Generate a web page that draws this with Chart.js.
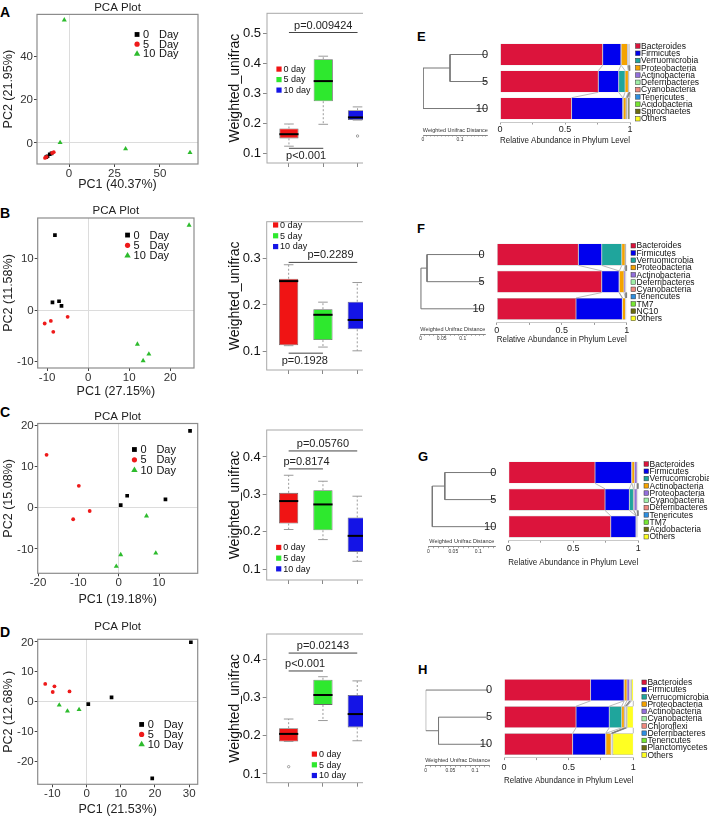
<!DOCTYPE html>
<html><head><meta charset="utf-8">
<script src="https://cdn.jsdelivr.net/npm/chart.js@4.4.0/dist/chart.umd.min.js"></script>
<style>
html,body{margin:0;padding:0;background:#fff;}
body{width:709px;height:818px;position:relative;overflow:hidden;font-family:'Liberation Sans',Arial,Helvetica,sans-serif;}
.lt{position:absolute;font-weight:bold;line-height:1;color:#000;}
</style></head><body>
<div class="lt" style="left:0px;top:5px;font-size:14px">A</div>
<div class="lt" style="left:0px;top:206px;font-size:14px">B</div>
<div class="lt" style="left:0px;top:405px;font-size:14px">C</div>
<div class="lt" style="left:0px;top:625px;font-size:14px">D</div>
<div class="lt" style="left:417px;top:30px;font-size:13px">E</div>
<div class="lt" style="left:417px;top:222px;font-size:13px">F</div>
<div class="lt" style="left:418px;top:450px;font-size:13px">G</div>
<div class="lt" style="left:418px;top:663px;font-size:13px">H</div>
<script>
// ================= DATA =================
const dayGroups = ['0 Day', '5 Day', '10 Day'];
const boxGroups = ['0 day', '5 day', '10 day'];

// PCA points [PC1, PC2]
const pcaA_d0  = [[-12.5,-6.6],[-11.8,-6.2],[-10.6,-5.3],[-9.6,-4.9]];
const pcaA_d5  = [[-13.2,-7.0],[-12.3,-6.5],[-9.3,-4.7],[-8.4,-4.3]];
const pcaA_d10 = [[-2.6,56.9],[-4.9,0.1],[31.1,-2.8],[66.5,-4.5]];
const pcaB_d0  = [[-8.1,14.5],[-8.7,1.5],[-7.1,1.7],[-6.5,0.8]];
const pcaB_d5  = [[-10.6,-2.6],[-9.1,-2.1],[-8.5,-4.2],[-5.0,-1.3]];
const pcaB_d10 = [[24.6,16.4],[12.0,-6.6],[14.8,-8.5],[13.4,-9.8]];
const pcaC_d0  = [[17.7,18.6],[2.1,2.9],[0.5,0.6],[11.6,2.0]];
const pcaC_d5  = [[-17.9,12.8],[-9.9,5.3],[-7.2,-0.8],[-11.3,-2.8]];
const pcaC_d10 = [[6.9,-2.0],[9.2,-11.0],[0.5,-11.4],[-0.6,-14.2]];
const pcaD_d0  = [[30.5,19.9],[7.3,1.4],[0.5,-0.9],[19.2,-25.8]];
const pcaD_d5  = [[-12.1,5.9],[-9.4,5.1],[-9.9,3.2],[-5.0,3.4]];
const pcaD_d10 = [[-8.0,-1.2],[-5.6,-3.2],[-2.2,-2.7]];
const pcaTitleX = ['PC1 (40.37%)','PC1 (27.15%)','PC1 (19.18%)','PC1 (21.53%)'];
const pcaTitleY = ['PC2 (21.95%)','PC2 (11.58%)','PC2 (15.08%)','PC2 (12.68% )'];
// PCA tick labels
const pcaTicksXA = [0, 25, 50];            const pcaTicksYA = [0, 20, 40];
const pcaTicksXB = [-10, 0, 10, 20];       const pcaTicksYB = [-10, 0, 10];
const pcaTicksXC = [-20, -10, 0, 10];      const pcaTicksYC = [-10, 0, 10, 20];
const pcaTicksXD = [-10, 0, 10, 20, 30];   const pcaTicksYD = [-20, -10, 0, 10, 20];

// Box stats per group: [lower whisker, Q1, median, Q3, upper whisker]
const boxA = [[0.124,0.150,0.164,0.183,0.198],[0.197,0.274,0.341,0.414,0.424],[0.211,0.211,0.220,0.244,0.255]];
const boxB = [[0.113,0.114,0.251,0.256,0.286],[0.110,0.125,0.179,0.191,0.206],[0.102,0.148,0.168,0.207,0.248]];
const boxC = [[0.206,0.222,0.282,0.304,0.351],[0.179,0.204,0.273,0.311,0.335],[0.121,0.146,0.189,0.238,0.295]];
const boxD = [[0.185,0.185,0.205,0.220,0.244],[0.240,0.281,0.307,0.347,0.355],[0.187,0.222,0.257,0.307,0.344]];
const outA = [[3,0.158]];
const outD = [[1,0.119]];
const boxTicksA = [0.1, 0.2, 0.3, 0.4, 0.5];
const boxTicksB = [0.1, 0.2, 0.3];
const boxTicksC = [0.1, 0.2, 0.3, 0.4];
const boxTicksD = [0.1, 0.2, 0.3, 0.4];
// p-value brackets: [text, from group, to group, y value]
const pvA = [['p=0.009424',1,3,0.503],['p<0.001',1,2,0.117]];
const pvB = [['p=0.2289',1,3,0.291],['p=0.1928',1,2,0.097]];
const pvC = [['p=0.05760',1,3,0.416],['p=0.8174',1,2,0.368]];
const pvD = [['p=0.02143',1,3,0.417],['p<0.001',1,2,0.370]];

// Relative abundance (bars 0, 5, 10)
const barCats = ['0','5','10'];
const phylaE = ['Bacteroides','Firmicutes','Verruomicrobia','Proteobacteria','Actinobacteria','Deferribacteres','Cyanobacteria','Tenericutes','Acidobacteria','Spirochaetes','Others'];
const valsE = [[0.790,0.756,0.551],[0.140,0.157,0.393],[0.002,0.049,0.004],[0.048,0.025,0.021],[0.008,0.006,0.006],[0.002,0.001,0.002],[0.002,0.001,0.002],[0.002,0.001,0.003],[0.001,0.001,0.002],[0.001,0.001,0.010],[0.004,0.002,0.006]];
const phylaF = ['Bacteroides','Firmicutes','Verruomicrobia','Proteobacteria','Actinobacteria','Deferribacteres','Cyanobacteria','Tenericutes','TM7','NC10','Others'];
const valsF = [[0.628,0.808,0.610],[0.180,0.133,0.356],[0.154,0.003,0.002],[0.025,0.035,0.022],[0.006,0.012,0.003],[0.001,0.002,0.001],[0.001,0.002,0.001],[0.001,0.001,0.001],[0.001,0.001,0.001],[0.001,0.001,0.001],[0.002,0.002,0.002]];
const phylaG = ['Bacteroides','Firmicutes','Verrucomicrobia','Actinobacteria','Proteobacteria','Cyanobacteria','Deferribacteres','Tenericutes','TM7','Acidobacteria','Others'];
const valsG = [[0.667,0.744,0.788],[0.282,0.187,0.194],[0.002,0.031,0.002],[0.020,0.006,0.002],[0.019,0.022,0.008],[0.002,0.002,0.001],[0.002,0.002,0.001],[0.002,0.002,0.001],[0.001,0.001,0.001],[0.001,0.001,0.001],[0.002,0.002,0.001]];
const phylaH = ['Bacteroides','Firmicutes','Verrucomicrobia','Proteobacteria','Actinobacteria','Cyanobacteria','Chloroflexi','Deferribacteres','Tenericutes','Planctomycetes','Others'];
const valsH = [[0.670,0.557,0.531],[0.258,0.257,0.255],[0.002,0.096,0.002],[0.021,0.020,0.040],[0.020,0.008,0.003],[0.002,0.002,0.001],[0.002,0.002,0.001],[0.002,0.002,0.002],[0.002,0.002,0.002],[0.008,0.006,0.005],[0.013,0.048,0.158]];
const barTicks = [0, 0.25, 0.5, 0.75, 1];
const barTickLabels = [0, 0.5, 1];

// Dendrograms: [root x, inner node x, leaf x] (Weighted Unifrac distance scale), inner pair of leaves
const treeE = [0, 0.073, 0.173]; const pairE = [0,1]; const rulerE = [0, 0.1];
const treeF = [0, 0.015, 0.148]; const pairF = [0,1]; const rulerF = [0, 0.05, 0.1];
const treeG = [0.008, 0.033, 0.133]; const pairG = [0,1]; const rulerG = [0, 0.05, 0.1];
const treeH = [0, 0.026, 0.127]; const pairH = [1,2]; const rulerH = [0, 0.05, 0.1];

// ================= STYLE / HELPERS =================
const FF = "'Liberation Sans', Arial, Helvetica, sans-serif";
Chart.defaults.font.family = FF;
Chart.defaults.color = '#222';
const ptColors = ['#000000', '#ee1a1a', '#2dbb2d'];
const ptStyles = ['rect', 'circle', 'triangle'];
const boxColors = ['#f01414', '#2ee82e', '#1414e6'];
const phylaPalette = ['#dc143c','#0000ee','#1fa59c','#f5a300','#9370db','#a0f0a8','#f08a80','#2f8fe0','#77e633','#6b6b10','#ffff22'];
const setTicks = arr => s => { s.ticks = arr.map(v => ({ value: v })); };

function mk(x, y, w, h, clipW) {
  const c = document.createElement('canvas');
  c.width = w; c.height = h;
  c.style.cssText = 'position:absolute;width:' + w + 'px;height:' + h + 'px;';
  if (clipW) {
    const d = document.createElement('div');
    d.style.cssText = 'position:absolute;left:' + x + 'px;top:' + y + 'px;width:' + clipW + 'px;height:' + h + 'px;overflow:hidden;';
    c.style.left = '0px'; c.style.top = '0px';
    d.appendChild(c); document.body.appendChild(d);
  } else {
    c.style.left = x + 'px'; c.style.top = y + 'px';
    document.body.appendChild(c);
  }
  return c;
}
function marker(ctx, style, x, y, r, color) {
  ctx.fillStyle = color; ctx.beginPath();
  if (style === 'rect') { const s = r * Math.SQRT1_2; ctx.rect(x - s, y - s, 2 * s, 2 * s); }
  else if (style === 'circle') { ctx.arc(x, y, r, 0, Math.PI * 2); }
  else { const a = 2 * Math.PI / 3; ctx.moveTo(x, y - r); ctx.lineTo(x + r * Math.sin(a), y - r * Math.cos(a)); ctx.lineTo(x - r * Math.sin(a), y - r * Math.cos(a)); ctx.closePath(); }
  ctx.fill();
}
const framePlugin = (color, width) => ({
  id: 'frame',
  afterDatasetsDraw(chart) {
    const {ctx, chartArea: a} = chart;
    ctx.save(); ctx.strokeStyle = color; ctx.lineWidth = width;
    ctx.strokeRect(a.left, a.top, a.right - a.left, a.bottom - a.top);
    ctx.restore();
  }
});
const zeroGrid = c => (c.tick && c.tick.value === 0) ? '#dcdcdc' : 'rgba(0,0,0,0)';

// ---------- PCA ----------
function pcaChart(o) {
  const el = mk(o.x, o.y, o.w, o.h);
  const sets = [o.d0, o.d5, o.d10];
  const radii = [2.6, 1.9, 2.9];
  const orders = [1, 0, 2];
  const legend = {
    id: 'ptLeg',
    afterDraw(chart) {
      const {ctx, scales: {x, y}} = chart;
      // y tick labels, placed through the y scale
      ctx.save(); ctx.font = '11.5px ' + FF; ctx.fillStyle = '#333'; ctx.textAlign = 'right'; ctx.textBaseline = 'middle';
      o.yt2.forEach(v => ctx.fillText(String(v), y.left + y.width - 4, y.getPixelForValue(v) + 0.5));
      ctx.restore();
      const px = x.getPixelForValue(o.leg.x), py = y.getPixelForValue(o.leg.y);
      ctx.save(); ctx.font = '11px ' + FF; ctx.textBaseline = 'middle'; ctx.textAlign = 'left';
      const lr = [3.4, 2.6, 3.7];
      dayGroups.forEach((g, i) => {
        const yy = py + i * o.leg.dy;
        marker(ctx, ptStyles[i], px, yy, lr[i], ptColors[i]);
        const parts = g.split(' ');
        ctx.fillStyle = '#111';
        ctx.fillText(parts[0], px + 6, yy + 0.5);
        ctx.fillText(parts[1], px + 22, yy + 0.5);
      });
      ctx.restore();
    }
  };
  return new Chart(el, {
    type: 'scatter',
    data: { datasets: sets.map((s, i) => ({
      label: dayGroups[i], data: s.map(p => ({x: p[0], y: p[1]})),
      pointStyle: ptStyles[i], pointRadius: radii[i], pointHoverRadius: radii[i],
      backgroundColor: ptColors[i], borderColor: ptColors[i], borderWidth: 0, order: orders[i]
    })) },
    options: {
      responsive: false, animation: false, events: [],
      layout: { padding: o.pad },
      plugins: {
        legend: { display: false }, tooltip: { enabled: false },
        title: { display: true, text: 'PCA Plot', font: { size: 11.5, weight: 'normal' }, color: '#222', padding: { top: o.tp[0], bottom: o.tp[1] }, fullSize: false }
      },
      scales: {
        x: { type: 'linear', min: o.xr[0], max: o.xr[1], afterFit: s => { s.height = o.xH; }, afterBuildTicks: setTicks(o.xt2),
          ticks: { autoSkip: false, font: { size: 11.5 }, color: '#333', padding: 0, maxRotation: 0 },
          grid: { color: zeroGrid, tickColor: '#444', tickLength: 3, lineWidth: 1 },
          border: { display: false },
          title: { display: true, text: o.xt, font: { size: 12.5 }, color: '#222', padding: 0 } },
        y: { type: 'linear', min: o.yr[0], max: o.yr[1], afterFit: s => { s.width = o.yW; }, afterBuildTicks: setTicks(o.yt2),
          ticks: { display: false, autoSkip: false, font: { size: 11 }, padding: 1 },
          grid: { color: zeroGrid, tickColor: '#444', tickLength: 3, lineWidth: 1 },
          border: { display: false },
          title: { display: true, text: o.yt, font: { size: 12.5 }, color: '#222', padding: 0 } }
      }
    },
    plugins: [framePlugin('#8c8c8c', 1.2), legend]
  });
}

// ---------- BOX ----------
function boxChart(o) {
  const el = mk(o.x, o.y, o.w, o.h, o.clip);
  const boxW = 0.56;
  const extras = {
    id: 'boxExtras',
    afterDatasetsDraw(chart) {
      const {ctx, scales: {x, y}} = chart;
      const half = (x.getPixelForValue(1 + boxW / 2) - x.getPixelForValue(1));
      const cap = half * 0.5;
      const ln = (x1, y1, x2, y2) => { ctx.beginPath(); ctx.moveTo(x1, y1); ctx.lineTo(x2, y2); ctx.stroke(); };
      ctx.save();
      o.stats.forEach((s, i) => {
        const cx = x.getPixelForValue(i + 1);
        const Y = v => y.getPixelForValue(v);
        ctx.strokeStyle = '#9a9a9a'; ctx.lineWidth = 1;
        ctx.setLineDash([2, 2]);
        if (s[4] > s[3]) ln(cx, Y(s[3]), cx, Y(s[4]));
        if (s[0] < s[1]) ln(cx, Y(s[1]), cx, Y(s[0]));
        ctx.setLineDash([]);
        ln(cx - cap, Y(s[4]), cx + cap, Y(s[4]));
        ln(cx - cap, Y(s[0]), cx + cap, Y(s[0]));
        ctx.strokeStyle = '#000'; ctx.lineWidth = 2;
        ln(cx - half, Y(s[2]), cx + half, Y(s[2]));
      });
      ctx.strokeStyle = '#888'; ctx.lineWidth = 0.8;
      (o.out || []).forEach(p => { ctx.beginPath(); ctx.arc(x.getPixelForValue(p[0]), y.getPixelForValue(p[1]), 1.2, 0, Math.PI * 2); ctx.stroke(); });
      // p-value brackets
      ctx.strokeStyle = '#444'; ctx.lineWidth = 1; ctx.fillStyle = '#222';
      ctx.font = '11px ' + FF; ctx.textAlign = 'center'; ctx.textBaseline = 'middle';
      o.pv.forEach((p, k) => {
        const py = y.getPixelForValue(p[3]);
        ln(x.getPixelForValue(p[1]), py, x.getPixelForValue(p[2]), py);
        const pos = o.pvPos[k];
        ctx.fillText(p[0], x.getPixelForValue(pos[0]), pos[1] === 'above' ? py - 7 : py + 7.5);
      });
      // legend
      ctx.font = '9px ' + FF; ctx.textAlign = 'left';
      boxGroups.forEach((g, i) => {
        const lx = x.getPixelForValue(o.leg.x), ly = y.getPixelForValue(o.leg.y) + i * o.leg.dy;
        ctx.fillStyle = boxColors[i]; ctx.fillRect(lx - 2.6, ly - 2.6, 5.2, 5.2);
        ctx.fillStyle = '#111'; ctx.fillText(g, lx + 4.5, ly + 0.3);
      });
      ctx.restore();
    }
  };
  return new Chart(el, {
    type: 'bar',
    data: { datasets: [{
      data: o.stats.map((s, i) => ({x: i + 1, y: [s[1], s[3]]})),
      backgroundColor: boxColors, borderColor: '#666', borderWidth: 0.8, borderSkipped: false,
      barPercentage: boxW, categoryPercentage: 1
    }] },
    options: {
      responsive: false, animation: false, events: [],
      layout: { padding: o.pad },
      plugins: { legend: { display: false }, tooltip: { enabled: false } },
      scales: {
        x: { type: 'linear', offset: false, min: 0.36, max: 3.64, afterFit: s => { s.height = o.xH; }, afterBuildTicks: setTicks([1, 2, 3]),
          ticks: { autoSkip: false, callback: () => '' },
          grid: { drawOnChartArea: false, tickLength: 4, tickColor: '#888', offset: false },
          border: { display: false } },
        y: { type: 'linear', min: o.yr[0], max: o.yr[1], afterFit: s => { s.width = o.yW; }, afterBuildTicks: setTicks(o.ticks),
          ticks: { autoSkip: false, font: { size: 13 }, color: '#111', padding: 2, callback: v => v.toFixed(1) },
          grid: { drawOnChartArea: false, tickLength: 4, tickColor: '#888' },
          border: { display: false },
          title: { display: true, text: 'Weighted_unifrac', font: { size: 14 }, color: '#111', padding: 0 } }
      }
    },
    plugins: [framePlugin('#a8a8a8', 1), extras]
  });
}

// ---------- STACKED BARS ----------
function barChart(o) {
  const el = mk(o.x, o.y, o.w, o.h);
  const conn = {
    id: 'conn',
    afterDatasetsDraw(chart) {
      const {ctx} = chart;
      ctx.save(); ctx.strokeStyle = 'rgba(120,120,120,0.85)'; ctx.lineWidth = 0.6;
      chart.data.datasets.forEach((d, k) => {
        const els = chart.getDatasetMeta(k).data;
        for (let i = 0; i < els.length - 1; i++) {
          const a = els[i], b = els[i + 1];
          ctx.beginPath(); ctx.moveTo(a.x, a.y + a.height / 2); ctx.lineTo(b.x, b.y - b.height / 2); ctx.stroke();
        }
      });
      ctx.restore();
    }
  };
  const leg = {
    id: 'blg',
    afterDraw(chart) {
      const {ctx, chartArea: ca} = chart;
      ctx.save(); ctx.font = '8.5px ' + FF; ctx.textBaseline = 'middle'; ctx.textAlign = 'left';
      o.names.forEach((n, k) => {
        const cx = ca.right + o.ldx, cy = ca.top + o.ldy + k * 7.27;
        ctx.fillStyle = phylaPalette[k]; ctx.fillRect(cx - 2.3, cy - 2.3, 4.6, 4.6);
        ctx.strokeStyle = '#333'; ctx.lineWidth = 0.5; ctx.strokeRect(cx - 2.3, cy - 2.3, 4.6, 4.6);
        ctx.fillStyle = '#111'; ctx.fillText(n, cx + 3.2, cy + 0.4);
      });
      ctx.restore();
    }
  };
  return new Chart(el, {
    type: 'bar',
    data: { labels: barCats, datasets: o.names.map((n, k) => ({
      label: n, data: o.vals[k], backgroundColor: phylaPalette[k],
      borderColor: 'rgba(40,40,40,0.55)', borderWidth: 0.4, borderSkipped: false,
      categoryPercentage: 0.8, barPercentage: 1
    })) },
    options: {
      indexAxis: 'y', responsive: false, animation: false, events: [],
      layout: { padding: o.pad },
      plugins: { legend: { display: false }, tooltip: { enabled: false } },
      scales: {
        x: { stacked: true, min: 0, max: 1, afterFit: s => { s.height = o.xH; }, afterBuildTicks: setTicks(barTicks),
          ticks: { autoSkip: false, maxRotation: 0, font: { size: 9 }, color: '#222', padding: o.tpad,
            callback: v => barTickLabels.includes(v) ? String(v) : '' },
          grid: { drawOnChartArea: false, tickLength: 2.5, tickColor: '#999' },
          border: { display: true, color: '#bbb', width: 0.8 },
          title: { display: true, text: 'Relative Abundance in Phylum Level', font: { size: 9 }, color: '#222', padding: 0 } },
        y: { stacked: true, afterFit: s => { s.width = o.yW; },
          ticks: { autoSkip: false, font: { size: 11 }, color: '#222', padding: 4 },
          grid: { display: false }, border: { display: false } }
      }
    },
    plugins: [conn, leg]
  });
}

// ---------- DENDROGRAM ----------
function treeChart(o) {
  const el = mk(o.x, o.y, o.w, o.h);
  const [rx, nx, tx] = o.tree; const [a, b] = o.pair;
  const other = [0, 1, 2].find(i => i !== a && i !== b); const mid = (a + b) / 2;
  const paths = [
    [[tx, a], [nx, a], [nx, b], [tx, b]],
    [[nx, mid], [rx, mid], [rx, other], [tx, other]]
  ];
  const rulerTicks = [];
  for (let k = 0; k <= Math.floor(o.xmax * 100 + 1e-6); k++) rulerTicks.push(k / 100);
  const rt = {
    id: 'rt',
    afterDraw(chart) {
      const {ctx, chartArea: ca} = chart;
      ctx.save(); ctx.font = '5.5px ' + FF; ctx.fillStyle = '#333'; ctx.textAlign = 'center'; ctx.textBaseline = 'middle';
      ctx.fillText('Weighted Unifrac Distance', (ca.left + ca.right) / 2, ca.bottom - 5);
      ctx.restore();
    }
  };
  return new Chart(el, {
    type: 'scatter',
    data: { datasets: paths.map(p => ({ data: p.map(q => ({x: q[0], y: q[1]})), showLine: true, borderColor: '#777', borderWidth: 1, pointRadius: 0, fill: false, tension: 0 })) },
    options: {
      responsive: false, animation: false, events: [],
      layout: { padding: o.pad },
      plugins: { legend: { display: false }, tooltip: { enabled: false } },
      scales: {
        x: { type: 'linear', min: 0, max: o.xmax, afterFit: s => { s.height = o.xH; }, afterBuildTicks: setTicks(rulerTicks),
          ticks: { autoSkip: false, maxRotation: 0, font: { size: 5 }, color: '#333', padding: 0,
            callback: v => o.labels.some(l => Math.abs(l - v) < 1e-6) ? String(+v.toFixed(2)) : '' },
          grid: { drawOnChartArea: false, tickLength: 1.5, tickColor: '#666', lineWidth: 0.6 },
          border: { display: true, color: '#666', width: 0.8 } },
        y: { display: false, type: 'linear', min: -0.5, max: o.ymax, reverse: true }
      }
    },
    plugins: [rt]
  });
}

// ================= BUILD =================
pcaChart({x:0, y:0, w:210, h:200, d0:pcaA_d0, d5:pcaA_d5, d10:pcaA_d10, xt:pcaTitleX[0], yt:pcaTitleY[0], xt2:pcaTicksXA, yt2:pcaTicksYA,
  pad:{left:0.8,right:12,top:0,bottom:7.5}, tp:[0.6,0], yW:36.2, xH:28.5, xr:[-17.6,70.9], yr:[-9.8,59.5], leg:{x:37.4,y:50.2,dy:9.7}});
pcaChart({x:0, y:200, w:210, h:200, d0:pcaB_d0, d5:pcaB_d5, d10:pcaB_d10, xt:pcaTitleX[1], yt:pcaTitleY[1], xt2:pcaTicksXB, yt2:pcaTicksYB,
  pad:{left:0.8,right:16,top:0,bottom:0.8}, tp:[4.2,0], yW:36.9, xH:31.2, xr:[-12.3,25.8], yr:[-11.2,17.8], leg:{x:9.6,y:14.5,dy:10.3}});
pcaChart({x:0, y:400, w:210, h:210, d0:pcaC_d0, d5:pcaC_d5, d10:pcaC_d10, xt:pcaTitleX[2], yt:pcaTitleY[2], xt2:pcaTicksXC, yt2:pcaTicksYC,
  pad:{left:0.8,right:12.3,top:0,bottom:2.5}, tp:[9.7,0], yW:36.9, xH:34.2, xr:[-20.1,19.6], yr:[-15.9,20.4], leg:{x:3.9,y:14.1,dy:10.3}});
pcaChart({x:0, y:610, w:210, h:208, d0:pcaD_d0, d5:pcaD_d5, d10:pcaD_d10, xt:pcaTitleX[3], yt:pcaTitleY[3], xt2:pcaTicksXD, yt2:pcaTicksYD,
  pad:{left:0.8,right:12.3,top:0,bottom:0.5}, tp:[10.4,5.1], yW:36.9, xH:33.2, xr:[-14.3,32.5], yr:[-27.8,20.9], leg:{x:16.1,y:-7.7,dy:10}});

boxChart({x:210, y:0, w:172, h:200, clip:153, stats:boxA, out:outA, pv:pvA, ticks:boxTicksA, pvPos:[[2.0,'above'],[1.5,'below']],
  pad:{left:16.6,right:2.5,top:13.3,bottom:0}, yW:40.4, xH:37, yr:[0.068,0.567], leg:{x:0.71,y:0.381,dy:10.5}});
boxChart({x:210, y:200, w:172, h:200, clip:153, stats:boxB, out:[], pv:pvB, ticks:boxTicksB, pvPos:[[2.22,'above'],[1.47,'below']],
  pad:{left:16.6,right:2.8,top:21.7,bottom:0}, yW:40.1, xH:30, yr:[0.061,0.378], leg:{x:0.62,y:0.371,dy:10.8}});
boxChart({x:210, y:400, w:172, h:210, clip:153, stats:boxC, out:[], pv:pvC, ticks:boxTicksC, pvPos:[[2.0,'above'],[1.52,'above']],
  pad:{left:16.6,right:2.8,top:30,bottom:0}, yW:40.1, xH:30, yr:[0.071,0.472], leg:{x:0.71,y:0.158,dy:10.7}});
boxChart({x:210, y:610, w:172, h:208, clip:153, stats:boxD, out:outD, pv:pvD, ticks:boxTicksD, pvPos:[[2.0,'above'],[1.48,'above']],
  pad:{left:16.6,right:2.8,top:24,bottom:0}, yW:40.1, xH:35.3, yr:[0.077,0.467], leg:{x:1.75,y:0.152,dy:10.7}});

treeChart({x:418, y:30, w:75, h:120, tree:treeE, pair:pairE, labels:rulerE, pad:{left:5,right:5.25,top:11,bottom:0}, xH:15, xmax:0.175, ymax:2.98});
treeChart({x:416, y:230, w:75, h:120, tree:treeF, pair:pairF, labels:rulerF, pad:{left:4.7,right:6,top:11,bottom:0}, xH:15.7, xmax:0.153, ymax:2.94});
treeChart({x:420, y:445, w:80, h:130, tree:treeG, pair:pairG, labels:rulerG, pad:{left:8.3,right:4.7,top:14,bottom:0}, xH:28.3, xmax:0.134, ymax:2.74});
treeChart({x:418, y:660, w:80, h:130, tree:treeH, pair:pairH, labels:rulerH, pad:{left:7.7,right:8.2,top:16.5,bottom:0}, xH:24.3, xmax:0.13, ymax:2.79});

barChart({x:466, y:30, w:243, h:120, names:phylaE, vals:valsE, pad:{left:0,right:79,top:11,bottom:3.9}, yW:34, xH:24.1, tpad:0.1, ldx:7.8, ldy:5});
barChart({x:466, y:230, w:243, h:120, names:phylaF, vals:valsF, pad:{left:0,right:82.3,top:11,bottom:5.3}, yW:30.7, xH:22.3, tpad:0, ldx:6.6, ldy:4.7});
barChart({x:466, y:445, w:243, h:130, names:phylaG, vals:valsG, pad:{left:0,right:70.7,top:14,bottom:7.3}, yW:42.3, xH:27.5, tpad:0, ldx:8, ldy:5});
barChart({x:466, y:660, w:243, h:130, names:phylaH, vals:valsH, pad:{left:0,right:75.7,top:16.5,bottom:3.9}, yW:38, xH:28.5, tpad:1.8, ldx:10.9, ldy:5.8});
</script>
</body></html>
